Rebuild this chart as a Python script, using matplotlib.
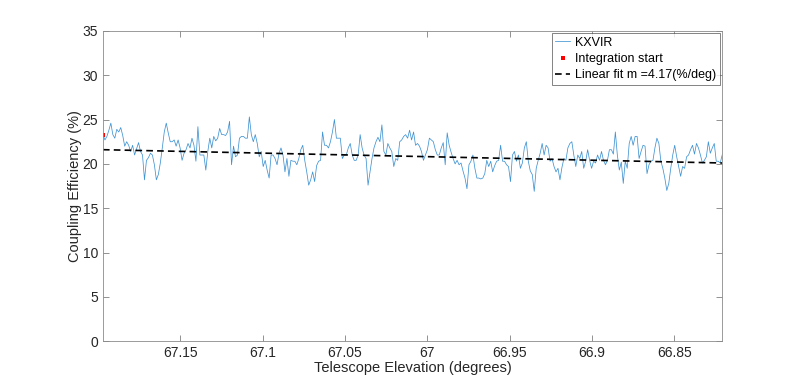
import numpy as np
import matplotlib
matplotlib.use("Agg")
import matplotlib.pyplot as plt

plt.rcParams['font.family'] = ['Liberation Sans', 'DejaVu Sans']

# elevation range covered by the scan (deg), data are evenly spaced in it
elev_start = 67.197
elev_end = 66.821

# coupling efficiency (%), left to right
eff_a = [23.3, 22.7, 23.1, 23.8, 24.6, 23.3, 22.9, 23.9, 23.6, 24.1, 23.2, 22.0, 22.5, 22.1, 21.4, 22.1, 21.0, 21.7, 22.4, 21.4,
         21.0, 18.2, 20.4, 20.7, 21.2, 21.0, 19.9, 18.2, 18.8, 20.1, 21.8, 23.6, 24.6, 23.5, 22.5, 22.5, 22.7, 22.0, 22.7, 21.8]
eff_b = [20.4, 21.2, 21.6, 22.3, 21.8, 22.9, 22.1, 20.3, 24.2, 21.0, 21.0, 21.0, 19.3, 21.4, 22.9, 21.8, 23.1, 22.6, 22.9,
         24.0, 23.3, 23.3, 23.2, 23.6, 24.8, 19.9, 22.0, 20.8, 21.0, 22.9, 23.1, 23.1, 22.9, 22.9, 25.3, 23.3, 22.5, 23.3]
eff_c = [22.3, 20.8, 21.4, 19.7, 20.4, 19.3, 18.4, 21.0, 21.0, 20.6, 19.9, 21.2, 21.8, 21.0, 19.1, 20.6, 18.6, 20.4, 20.3,
         20.3, 19.9, 20.6, 21.6, 22.1, 20.4, 19.1, 17.6, 18.2, 19.1, 18.0, 19.8, 20.3, 20.4, 23.6, 22.1, 22.1, 21.8, 22.5]
eff_d = [23.6, 25.0, 22.9, 22.9, 22.9, 20.6, 21.0, 21.0, 21.8, 22.3, 21.0, 20.4, 20.4, 21.0, 23.3, 21.8, 21.0, 20.6, 17.6,
         19.1, 20.6, 21.8, 22.5, 23.0, 22.5, 24.4, 21.4, 21.0, 22.3, 21.8, 21.4, 19.7, 20.6, 20.4, 22.5, 22.7, 23.1, 23.3]
eff_e = [22.9, 23.8, 22.7, 23.6, 22.1, 22.3, 22.0, 21.4, 20.4, 21.0, 21.6, 22.9, 22.7, 22.5, 21.6, 21.0, 21.0, 21.8, 22.4,
         19.9, 23.5, 22.1, 21.3, 20.6, 20.0, 20.4, 19.9, 20.1, 19.2, 18.4, 17.2, 19.9, 20.3, 21.0, 19.5, 18.4, 18.4, 18.3]
eff_f = [18.4, 18.9, 20.4, 19.7, 20.3, 19.1, 19.8, 20.3, 20.4, 22.1, 20.3, 20.3, 19.9, 19.7, 18.0, 21.0, 21.4, 20.3, 21.0,
         19.5, 20.1, 21.8, 22.5, 20.3, 19.2, 18.8, 16.9, 19.5, 20.4, 21.2, 22.3, 21.0, 22.1, 21.8, 20.3, 20.6, 19.7, 19.1]
eff_g = [19.5, 18.2, 19.6, 20.6, 20.4, 21.8, 22.3, 22.5, 21.0, 19.7, 21.0, 20.6, 21.4, 19.5, 20.3, 21.6, 20.4, 19.5, 20.3,
         20.1, 21.0, 20.4, 21.4, 20.4, 19.9, 20.4, 21.6, 21.6, 21.1, 23.6, 21.0, 19.3, 20.2, 17.8, 20.3, 19.5, 22.3, 23.1]
eff_h = [22.1, 23.1, 23.1, 20.6, 21.4, 22.1, 22.0, 18.9, 19.9, 20.3, 20.4, 21.8, 22.9, 22.3, 20.3, 19.5, 18.4, 17.0, 17.8,
         19.5, 21.0, 22.1, 20.8, 19.7, 18.6, 19.7, 19.5, 20.8, 21.0, 21.6, 22.1, 21.1, 22.3, 21.8, 21.0, 20.1, 20.4, 20.8,
         22.5, 21.2, 21.8, 22.3, 20.3, 20.3, 20.1, 21.0]
efficiency = np.array(eff_a + eff_b + eff_c + eff_d + eff_e + eff_f + eff_g + eff_h)
elevation = np.linspace(elev_start, elev_end, len(efficiency))

# linear fit, value at the two ends of the scan
fit_ends = [21.6, 20.1]
fit_label = "Linear fit m =4.17(%/deg)"

x_ticks = [67.15, 67.1, 67.05, 67, 66.95, 66.9, 66.85]
x_tick_labels = ["67.15", "67.1", "67.05", "67", "66.95", "66.9", "66.85"]
y_ticks = [0, 5, 10, 15, 20, 25, 30, 35]

fig = plt.figure(figsize=(7.98, 3.82), dpi=100)
ax = fig.add_axes([0.129, 0.107, 0.776, 0.812])

ax.plot(elevation, efficiency, color="#3f93d2", lw=0.55, label="KXVIR")
ax.plot(elevation[0], efficiency[0], "s", color="red", markersize=2.2, markeredgewidth=0, label="Integration start")
ax.plot([elev_start, elev_end], fit_ends, "--", color="black", lw=1.2, dashes=(4, 2.5), label=fit_label)

ax.set_xlim(elev_start, elev_end)
ax.set_ylim(0, 35)
ax.set_xticks(x_ticks)
ax.set_xticklabels(x_tick_labels)
ax.set_yticks(y_ticks)

grey = "#262626"
for s in ax.spines.values():
    s.set_color("#8a8a8a")
    s.set_linewidth(0.6)
ax.tick_params(direction="in", length=4, width=0.5, color="#666666", labelsize=10, labelcolor=grey,
               top=True, right=True)
ax.set_xlabel("Telescope Elevation (degrees)", fontsize=10.5, color=grey, labelpad=1)
ax.set_ylabel("Coupling Efficiency (%)", fontsize=10.5, color=grey, labelpad=0)

leg = ax.legend(loc="upper right", fontsize=9, frameon=True, fancybox=False, handlelength=1.2,
                handletextpad=0.4, borderaxespad=0.15, borderpad=0.3, labelspacing=0.35)
leg.get_frame().set_edgecolor(grey)
leg.get_frame().set_linewidth(0.5)

fig.savefig("out.png", dpi=100)
